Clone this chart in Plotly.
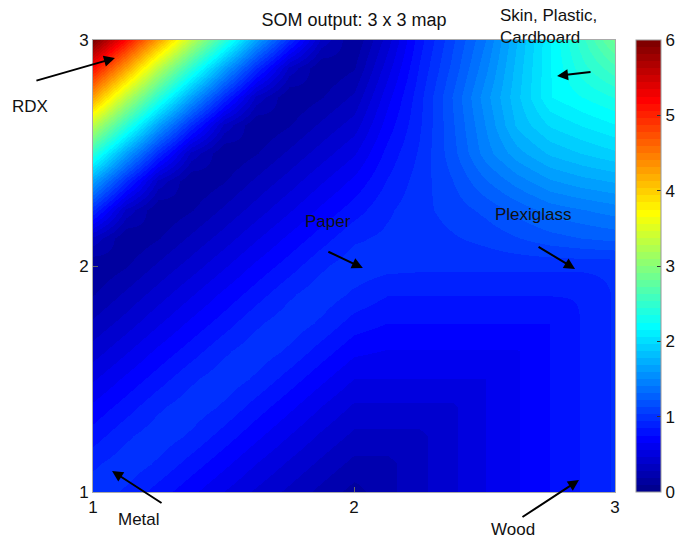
import plotly.graph_objects as go

# Map coordinates (3 x 3 SOM, sampled every 0.125)
x_vals = [1.0, 1.125, 1.25, 1.375, 1.5, 1.625, 1.75, 1.875, 2.0,
          2.125, 2.25, 2.375, 2.5, 2.625, 2.75, 2.875, 3.0]
y_vals = [1.0, 1.125, 1.25, 1.375, 1.5, 1.625, 1.75, 1.875, 2.0,
          2.125, 2.25, 2.375, 2.5, 2.625, 2.75, 2.875, 3.0]

# Distance values (rows: y = 1 ... 3, cols: x = 1 ... 3)
row_y100 = [1.00, 0.92, 0.80, 0.68, 0.56, 0.45, 0.35, 0.25, 0.15, 0.25, 0.35, 0.45, 0.56, 0.65, 0.75, 0.85, 0.95]
row_y112 = [0.92, 1.00, 0.92, 0.80, 0.68, 0.56, 0.45, 0.35, 0.25, 0.25, 0.35, 0.45, 0.56, 0.65, 0.75, 0.85, 0.95]
row_y125 = [0.80, 0.92, 1.00, 0.92, 0.80, 0.68, 0.56, 0.45, 0.35, 0.35, 0.35, 0.45, 0.56, 0.65, 0.75, 0.85, 0.95]
row_y137 = [0.68, 0.80, 0.92, 1.00, 0.92, 0.80, 0.68, 0.56, 0.45, 0.45, 0.45, 0.45, 0.56, 0.65, 0.75, 0.85, 0.95]
row_y150 = [0.55, 0.68, 0.80, 0.92, 1.00, 0.92, 0.80, 0.68, 0.56, 0.56, 0.56, 0.56, 0.56, 0.65, 0.75, 0.85, 0.95]
row_y162 = [0.42, 0.55, 0.68, 0.80, 0.92, 1.00, 0.92, 0.80, 0.68, 0.65, 0.65, 0.65, 0.65, 0.65, 0.75, 0.85, 0.95]
row_y175 = [0.30, 0.42, 0.55, 0.68, 0.80, 0.92, 1.00, 0.92, 0.80, 0.75, 0.75, 0.75, 0.75, 0.75, 0.75, 0.85, 0.95]
row_y187 = [0.18, 0.30, 0.42, 0.55, 0.68, 0.80, 0.92, 1.00, 0.92, 0.85, 0.85, 0.85, 0.85, 0.85, 0.85, 0.85, 0.95]
row_y200 = [0.10, 0.18, 0.30, 0.42, 0.55, 0.68, 0.80, 0.92, 1.00, 0.97, 0.96, 0.96, 0.96, 0.96, 0.96, 0.96, 0.96]
row_y212 = [0.35, 0.10, 0.18, 0.30, 0.42, 0.55, 0.68, 0.80, 0.92, 0.96, 0.98, 1.02, 1.06, 1.12, 1.18, 1.22, 1.25]
row_y225 = [0.95, 0.35, 0.10, 0.18, 0.30, 0.42, 0.55, 0.68, 0.80, 0.92, 1.00, 1.07, 1.15, 1.25, 1.35, 1.40, 1.45]
row_y237 = [1.65, 0.95, 0.35, 0.10, 0.18, 0.30, 0.42, 0.55, 0.68, 0.85, 0.98, 1.12, 1.30, 1.45, 1.58, 1.65, 1.70]
row_y250 = [2.45, 1.65, 0.95, 0.35, 0.10, 0.18, 0.30, 0.42, 0.55, 0.78, 0.95, 1.18, 1.45, 1.65, 1.80, 1.88, 1.95]
row_y262 = [3.30, 2.45, 1.65, 0.95, 0.35, 0.10, 0.18, 0.30, 0.42, 0.70, 0.92, 1.20, 1.50, 1.80, 1.98, 2.07, 2.15]
row_y275 = [4.25, 3.30, 2.45, 1.65, 0.95, 0.35, 0.10, 0.18, 0.30, 0.62, 0.90, 1.22, 1.55, 1.85, 2.15, 2.25, 2.35]
row_y287 = [5.15, 4.25, 3.30, 2.45, 1.65, 0.95, 0.35, 0.10, 0.18, 0.52, 0.85, 1.15, 1.47, 1.82, 2.15, 2.40, 2.60]
row_y300 = [6.00, 5.15, 4.25, 3.30, 2.45, 1.65, 0.95, 0.35, 0.10, 0.42, 0.80, 1.10, 1.40, 1.78, 2.15, 2.50, 2.85]

z_rows = [row_y100, row_y112, row_y125, row_y137, row_y150, row_y162, row_y175,
          row_y187, row_y200, row_y212, row_y225, row_y237, row_y250, row_y262,
          row_y275, row_y287, row_y300]

tick_vals = [1, 2, 3]
cbar_ticks = [0, 1, 2, 3, 4, 5, 6]

# Labels: text, arrow head (data), arrow tail offset (px), text position (px)
label_names = ["RDX", "Skin, Plastic,<br>Cardboard", "Paper", "Plexiglass", "Metal", "Wood"]
head_x = [1.084, 2.778, 2.034, 2.847, 1.073, 2.862]
head_y = [2.920, 2.841, 1.991, 1.987, 1.093, 1.053]
tail_dx = [-80, 35, -36, -38, 51, -58]
tail_dy = [23, -4, -17, -23, 33, 38]
text_px = [(30, 107), (498, 26), (328, 221), (533, 214), (139, 519), (513, 529)]
text_anchor = ["center", "left", "center", "center", "center", "center"]


def jet64():
    """MATLAB jet(64) colormap as a discrete plotly colorscale."""
    cols = []
    for k in range(1, 65):
        if k <= 8:
            r, g, b = 0, 0, 0.5 + k * 0.0625
        elif k <= 24:
            r, g, b = 0, (k - 8) * 0.0625, 1
        elif k <= 40:
            r, g, b = (k - 24) * 0.0625, 1, 1 - (k - 24) * 0.0625
        elif k <= 56:
            r, g, b = 1, 1 - (k - 40) * 0.0625, 0
        else:
            r, g, b = 1 - (k - 56) * 0.0625, 0, 0
        b = min(b, 1)
        cols.append("rgb(%d,%d,%d)" % (round(r * 255), round(g * 255), round(b * 255)))
    scale = []
    n = len(cols)
    for i, c in enumerate(cols):
        scale.append([i / n, c])
        scale.append([(i + 1) / n, c])
    return scale


FONT = "Liberation Sans, Arial, Helvetica, sans-serif"
FS = 17

fig = go.Figure()
fig.add_trace(go.Heatmap(
    x=x_vals, y=y_vals, z=z_rows,
    zmin=0, zmax=6, zsmooth="best",
    colorscale=jet64(),
    hoverinfo="skip",
    colorbar=dict(
        x=1.040, xanchor="left", y=0.5, yanchor="middle",
        len=1.0, lenmode="fraction", thickness=25,
        outlinecolor="#999999", outlinewidth=1,
        tickvals=cbar_ticks, ticks="inside", ticklen=4, tickcolor="#333333",
        tickfont=dict(family=FONT, size=FS, color="#111111"),
        ypad=0, xpad=0,
    ),
))

annotations = []
for hx, hy, dx, dy in zip(head_x, head_y, tail_dx, tail_dy):
    annotations.append(dict(
        x=hx, y=hy, xref="x", yref="y", ax=dx, ay=dy,
        text="", showarrow=True, arrowhead=2, arrowsize=1.1,
        arrowwidth=2, arrowcolor="black", startstandoff=0, standoff=0,
    ))
W0, W1, H0, H1 = 93, 615, 40, 492
for name, (px, py), anc in zip(label_names, text_px, text_anchor):
    annotations.append(dict(
        x=(px - W0) / (W1 - W0), y=(H1 - py) / (H1 - H0),
        xref="paper", yref="paper", xanchor=anc, yanchor="middle",
        text=name, showarrow=False, align="left",
        font=dict(family=FONT, size=FS, color="#111111"),
    ))

fig.update_layout(
    width=675, height=540,
    margin=dict(l=93, r=60, t=40, b=48, autoexpand=False),
    paper_bgcolor="white", plot_bgcolor="white",
    font=dict(family=FONT, size=FS, color="#111111"),
    title=dict(text="SOM output: 3 x 3 map", x=(354 / 675), xanchor="center",
               y=1 - 20 / 540, yanchor="middle", yref="container",
               font=dict(family=FONT, size=18, color="#111111")),
    xaxis=dict(range=[1, 3], tickvals=tick_vals, ticks="inside", ticklen=5,
               tickcolor="#666666", showgrid=False, zeroline=False,
               showline=True, linecolor="#aaaaaa", linewidth=1, mirror=True,
               tickfont=dict(family=FONT, size=FS, color="#111111")),
    yaxis=dict(range=[1, 3], tickvals=tick_vals, ticks="inside", ticklen=5,
               tickcolor="#666666", showgrid=False, zeroline=False,
               showline=True, linecolor="#aaaaaa", linewidth=1, mirror=True,
               tickfont=dict(family=FONT, size=FS, color="#111111")),
    annotations=annotations,
    showlegend=False,
)

fig.write_html("out.html",
               config={"displayModeBar": False, "staticPlot": True},
               post_script="document.body.style.margin='0px';document.body.style.overflow='hidden';")
